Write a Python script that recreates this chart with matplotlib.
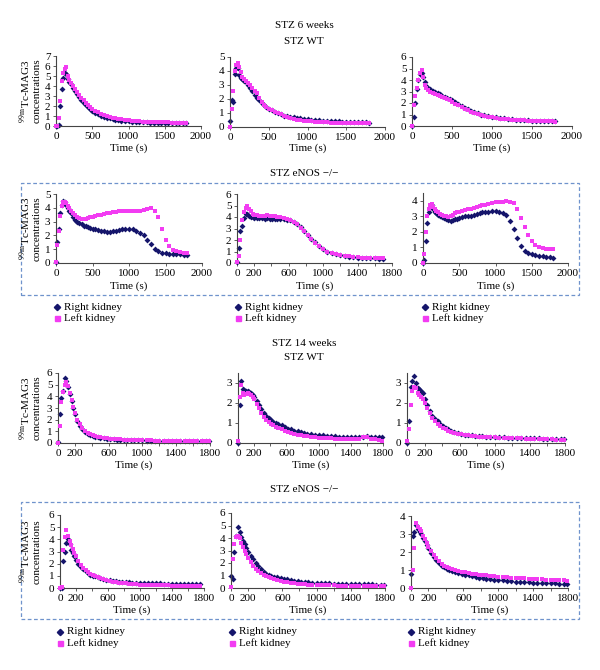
import numpy as np
import matplotlib
matplotlib.use("Agg")
import matplotlib.pyplot as plt
from matplotlib.patches import Rectangle
from matplotlib.lines import Line2D

plt.rcParams["font.family"] = ["Liberation Serif", "DejaVu Serif"]
plt.rcParams["mathtext.fontset"] = "stix"

# ---------------- data ----------------
time_s = [0, 20, 40, 60, 80, 100, 120, 140, 160, 180, 200,
          230, 260, 290, 320, 350, 380, 410, 440, 470, 500,
          540, 580, 620, 660, 700, 740, 780, 820, 860, 900,
          950, 1000, 1050, 1100, 1150, 1200, 1250, 1300, 1350, 1400,
          1450, 1500, 1550, 1600, 1650, 1700, 1750, 1790]

series_names = ["Right kidney", "Left kidney"]

# STZ 6 weeks, STZ WT
w6_wt1_right = [0, 0, 0.1, 2.0, 3.7, 4.8, 5.3, 5.2, 4.7, 4.4, 4.2,
                3.8, 3.5, 3.2, 2.9, 2.6, 2.3, 2.1, 1.9, 1.7, 1.5,
                1.35, 1.2, 1.05, 0.95, 0.85, 0.8, 0.72, 0.65, 0.6, 0.55,
                0.5, 0.48, 0.45, 0.42, 0.4, 0.38, 0.36, 0.35, 0.34, 0.33,
                0.32, 0.3, 0.3, 0.29, 0.28, 0.28, 0.27, 0.27]
w6_wt1_left = [0, 0.05, 0.8, 2.5, 4.5, 5.3, 5.7, 5.9, 5.0, 4.6, 4.3,
               4.0, 3.7, 3.4, 3.1, 2.8, 2.6, 2.35, 2.15, 1.95, 1.75,
               1.55, 1.4, 1.25, 1.1, 1.0, 0.92, 0.85, 0.78, 0.72, 0.67,
               0.62, 0.57, 0.53, 0.5, 0.47, 0.45, 0.43, 0.42, 0.4, 0.39,
               0.38, 0.37, 0.36, 0.35, 0.35, 0.34, 0.34, 0.34]
w6_wt2_right = [0.4, 1.9, 1.8, 3.8, 4.2, 4.2, 3.7, 3.5, 3.4, 3.3, 3.2,
                3.0, 2.8, 2.6, 2.3, 2.1, 1.9, 1.75, 1.6, 1.45, 1.3,
                1.2, 1.1, 1.0, 0.9, 0.82, 0.78, 0.72, 0.68, 0.65, 0.62,
                0.58, 0.55, 0.52, 0.5, 0.48, 0.46, 0.44, 0.43, 0.42, 0.4,
                0.39, 0.38, 0.37, 0.36, 0.35, 0.34, 0.33, 0.32]
w6_wt2_left = [0.0, 1.3, 2.6, 4.0, 4.4, 4.6, 4.3, 3.9, 3.6, 3.4, 3.3,
               3.15, 3.0, 2.8, 2.6, 2.45, 2.05, 1.8, 1.6, 1.45, 1.3,
               1.2, 1.1, 1.0, 0.9, 0.8, 0.72, 0.65, 0.58, 0.52, 0.48,
               0.45, 0.42, 0.4, 0.38, 0.36, 0.35, 0.33, 0.32, 0.31, 0.3,
               0.3, 0.29, 0.29, 0.28, 0.28, 0.28, 0.27, 0.27]
w6_wt3_right = [0, 0.8, 2.0, 3.2, 4.0, 4.5, 4.6, 4.3, 3.8, 3.5, 3.3,
                3.2, 3.05, 2.95, 2.85, 2.75, 2.65, 2.55, 2.45, 2.35, 2.3,
                2.1, 1.9, 1.75, 1.6, 1.45, 1.3, 1.2, 1.1, 1.0, 0.95,
                0.88, 0.82, 0.75, 0.7, 0.66, 0.62, 0.58, 0.55, 0.52, 0.5,
                0.48, 0.46, 0.45, 0.44, 0.45, 0.45, 0.44, 0.4]
w6_wt3_left = [0, 1.8, 2.6, 3.3, 4.0, 4.6, 4.9, 4.3, 3.6, 3.3, 3.1,
               3.0, 2.9, 2.8, 2.7, 2.65, 2.55, 2.45, 2.35, 2.25, 2.1,
               1.95, 1.8, 1.65, 1.5, 1.35, 1.25, 1.15, 1.05, 0.95, 0.9,
               0.82, 0.75, 0.7, 0.65, 0.6, 0.57, 0.55, 0.52, 0.5, 0.48,
               0.46, 0.45, 0.43, 0.42, 0.41, 0.4, 0.4, 0.38]

# STZ 6 weeks, STZ eNOS -/-
w6_ko1_right = [0.1, 1.5, 2.5, 3.6, 4.2, 4.5, 4.4, 4.2, 4.0, 3.8, 3.6,
                3.3, 3.1, 3.0, 2.9, 2.8, 2.7, 2.65, 2.6, 2.55, 2.5,
                2.45, 2.4, 2.35, 2.3, 2.25, 2.25, 2.3, 2.35, 2.4, 2.45,
                2.45, 2.5, 2.45, 2.35, 2.2, 2.0, 1.7, 1.35, 1.05, 0.85,
                0.75, 0.7, 0.68, 0.65, 0.63, 0.62, 0.6, 0.58]
w6_ko1_left = [0.1, 1.3, 2.3, 3.4, 4.1, 4.4, 4.45, 4.35, 4.1, 3.95, 3.8,
               3.6, 3.45, 3.35, 3.25, 3.2, 3.2, 3.2, 3.25, 3.3, 3.35,
               3.4, 3.45, 3.5, 3.55, 3.6, 3.65, 3.7, 3.7, 3.75, 3.75,
               3.75, 3.75, 3.8, 3.75, 3.8, 3.85, 3.9, 3.95, 3.8, 3.3,
               2.5, 1.7, 1.2, 0.95, 0.85, 0.8, 0.75, 0.7]
w6_ko2_right = [0.1, 1.3, 2.8, 3.2, 3.9, 4.3, 4.3, 4.1, 4.0, 4.0, 3.95,
                3.9, 3.9, 3.9, 3.85, 3.9, 3.85, 3.85, 3.8, 3.8, 3.8,
                3.8, 3.75, 3.7, 3.6, 3.4, 3.1, 2.8, 2.45, 2.1, 1.8,
                1.5, 1.2, 1.0, 0.85, 0.75, 0.68, 0.6, 0.55, 0.5, 0.47,
                0.45, 0.43, 0.42, 0.4, 0.39, 0.38, None, None]
w6_ko2_left = [0.1, 0.6, 2.0, 3.7, 4.4, 4.8, 5.0, 4.7, 4.5, 4.3, 4.2,
               4.15, 4.1, 4.1, 4.1, 4.15, 4.1, 4.1, 4.05, 4.0, 4.0,
               3.95, 3.85, 3.7, 3.55, 3.35, 3.05, 2.75, 2.4, 2.05, 1.75,
               1.45, 1.2, 1.0, 0.88, 0.78, 0.7, 0.63, 0.58, 0.53, 0.5,
               0.47, 0.45, 0.43, 0.42, 0.41, 0.4, None, None]
w6_ko3_right = [0.0, 0.2, 1.4, 2.6, 3.3, 3.6, 3.7, 3.5, 3.3, 3.2, 3.1,
                3.0, 2.95, 2.9, 2.8, 2.75, 2.7, 2.75, 2.8, 2.85, 2.9,
                2.95, 3.0, 3.0, 3.05, 3.1, 3.15, 3.2, 3.25, 3.3, 3.3,
                3.35, 3.35, 3.25, 3.2, 3.1, 2.7, 2.2, 1.6, 1.1, 0.8,
                0.65, 0.58, 0.52, 0.48, 0.44, 0.4, 0.36, 0.33]
w6_ko3_left = [0.0, 0.6, 2.0, 3.0, 3.5, 3.7, 3.8, 3.6, 3.45, 3.35, 3.25,
               3.15, 3.1, 3.05, 3.0, 2.95, 3.0, 3.1, 3.2, 3.25, 3.3,
               3.35, 3.4, 3.45, 3.5, 3.55, 3.6, 3.65, 3.7, 3.75, 3.8,
               3.85, 3.9, 3.9, 3.95, 4.0, 3.95, 3.85, 3.5, 2.9, 2.3,
               1.8, 1.4, 1.15, 1.0, 0.95, 0.9, 0.88, 0.88]

# STZ 14 weeks, STZ WT
w14_wt1_right = [0.1, 2.5, 3.9, 4.5, 5.6, 5.3, 4.8, 4.2, 3.6, 3.0, 2.5,
                 1.9, 1.5, 1.2, 0.95, 0.8, 0.7, 0.62, 0.55, 0.5, 0.45,
                 0.4, 0.37, 0.34, 0.32, 0.3, 0.28, 0.27, 0.26, 0.25, 0.24,
                 0.23, 0.22, 0.21, 0.2, 0.2, 0.19, 0.18, 0.18, 0.17, 0.17,
                 0.16, 0.16, 0.15, 0.15, 0.15, 0.14, 0.14, 0.14]
w14_wt1_left = [0.0, 1.5, 3.5, 4.4, 5.0, 5.2, 4.9, 4.3, 3.7, 3.1, 2.6,
                2.0, 1.6, 1.3, 1.05, 0.9, 0.78, 0.68, 0.6, 0.55, 0.5,
                0.45, 0.4, 0.37, 0.35, 0.33, 0.31, 0.3, 0.28, 0.27, 0.26,
                0.25, 0.24, 0.23, 0.22, 0.21, 0.2, 0.2, 0.19, 0.18, 0.18,
                0.17, 0.17, 0.16, 0.16, 0.16, 0.15, 0.15, 0.14]
w14_wt2_right = [0.0, 1.9, 3.1, 2.7, 2.65, 2.6, 2.6, 2.55, 2.5, 2.4, 2.3,
                 2.1, 1.9, 1.7, 1.5, 1.35, 1.25, 1.15, 1.05, 1.0, 0.95,
                 0.88, 0.8, 0.72, 0.68, 0.62, 0.6, 0.55, 0.5, 0.47, 0.45,
                 0.42, 0.4, 0.38, 0.36, 0.34, 0.33, 0.32, 0.31, 0.3, 0.3,
                 0.3, 0.3, 0.32, 0.35, 0.32, 0.3, 0.3, 0.3]
w14_wt2_left = [0.1, 2.3, 2.9, 2.5, 2.4, 2.45, 2.5, 2.45, 2.4, 2.3, 2.2,
                1.95, 1.75, 1.5, 1.3, 1.15, 1.05, 0.95, 0.88, 0.82, 0.75,
                0.68, 0.6, 0.55, 0.5, 0.45, 0.42, 0.38, 0.35, 0.33, 0.3,
                0.28, 0.26, 0.25, 0.24, 0.23, 0.22, 0.22, 0.2, 0.2, 0.2,
                0.2, 0.22, 0.32, 0.3, 0.22, 0.2, 0.15, 0.12]
w14_wt3_right = [0.0, 1.1, 2.8, 3.1, 3.35, 3.0, 2.75, 2.7, 2.6, 2.5, 2.2,
                 1.9, 1.6, 1.35, 1.2, 1.1, 0.95, 0.85, 0.75, 0.68, 0.62,
                 0.55, 0.5, 0.45, 0.42, 0.4, 0.38, 0.35, 0.34, 0.33, 0.32,
                 0.31, 0.3, 0.3, 0.28, 0.27, 0.27, 0.26, 0.26, 0.25, 0.25,
                 0.24, 0.23, 0.22, 0.22, 0.21, 0.2, 0.2, 0.18]
w14_wt3_left = [0.1, 0.7, 1.9, 2.6, 2.8, 2.75, 2.5, 2.4, 2.3, 2.2, 2.0,
                1.75, 1.5, 1.25, 1.1, 0.95, 0.85, 0.75, 0.68, 0.62, 0.57,
                0.52, 0.47, 0.43, 0.4, 0.38, 0.36, 0.34, 0.32, 0.31, 0.3,
                0.29, 0.28, 0.27, 0.26, 0.25, 0.25, 0.24, 0.23, 0.22, 0.22,
                0.21, 0.2, 0.2, 0.19, 0.18, 0.17, 0.15, 0.13]

# STZ 14 weeks, STZ eNOS -/-
w14_ko1_right = [0.0, 0.0, 2.2, 3.0, 3.7, 4.0, 3.6, 3.1, 2.9, 2.6, 2.3,
                 2.0, 1.75, 1.55, 1.4, 1.25, 1.1, 1.0, 0.95, 0.88, 0.82,
                 0.75, 0.68, 0.62, 0.58, 0.55, 0.52, 0.5, 0.48, 0.46, 0.44,
                 0.42, 0.41, 0.4, 0.4, 0.38, 0.38, 0.37, 0.36, 0.35, 0.35,
                 0.34, 0.33, 0.33, 0.32, 0.32, 0.31, 0.3, None]
w14_ko1_left = [0.0, 0.1, 3.1, 4.2, 4.8, 4.3, 3.9, 3.5, 3.2, 2.9, 2.6,
                2.2, 1.9, 1.65, 1.45, 1.3, 1.15, 1.05, 0.95, 0.88, 0.8,
                0.72, 0.65, 0.58, 0.52, 0.48, 0.44, 0.4, 0.37, 0.35, 0.32,
                0.3, 0.28, 0.27, 0.26, 0.25, 0.24, 0.23, 0.22, 0.21, 0.2,
                0.2, 0.19, 0.18, 0.18, 0.17, 0.17, 0.16, None]
w14_ko2_right = [1.0, 0.7, 2.9, 4.2, 4.9, 4.5, 4.1, 3.8, 3.5, 3.2, 2.9,
                 2.6, 2.3, 2.0, 1.75, 1.5, 1.3, 1.15, 1.05, 0.95, 0.9,
                 0.85, 0.8, 0.75, 0.7, 0.65, 0.6, 0.55, 0.5, 0.47, 0.45,
                 0.43, 0.42, 0.4, 0.38, 0.37, 0.36, 0.35, 0.34, 0.33, 0.32,
                 0.31, 0.3, 0.3, 0.3, 0.29, 0.28, 0.28, 0.27]
w14_ko2_left = [0.1, 2.3, 3.5, 4.1, 4.2, 4.0, 3.6, 3.3, 3.0, 2.7, 2.4,
                2.1, 1.8, 1.55, 1.35, 1.2, 1.05, 0.95, 0.85, 0.78, 0.7,
                0.62, 0.55, 0.5, 0.45, 0.42, 0.38, 0.35, 0.32, 0.3, 0.28,
                0.26, 0.25, 0.24, 0.23, 0.22, 0.21, 0.2, 0.2, 0.19, 0.19,
                0.18, 0.18, 0.17, 0.17, 0.16, 0.16, 0.15, 0.15]
w14_ko3_right = [0.8, 2.9, 3.1, 3.5, 3.3, 3.1, 3.0, 2.8, 2.6, 2.4, 2.2,
                 1.95, 1.75, 1.55, 1.4, 1.25, 1.15, 1.05, 1.0, 0.95, 0.9,
                 0.85, 0.8, 0.75, 0.7, 0.65, 0.6, 0.57, 0.55, 0.52, 0.5,
                 0.47, 0.45, 0.42, 0.4, 0.38, 0.36, 0.35, 0.33, 0.32, 0.3,
                 0.3, 0.29, 0.28, 0.27, 0.26, 0.25, 0.24, 0.23]
w14_ko3_left = [0.0, 1.0, 2.2, 3.6, 3.4, 3.3, 3.15, 2.9, 2.7, 2.5, 2.3,
                2.05, 1.85, 1.65, 1.5, 1.35, 1.25, 1.15, 1.1, 1.05, 1.0,
                0.95, 0.9, 0.87, 0.84, 0.8, 0.77, 0.75, 0.73, 0.7, 0.68,
                0.66, 0.63, 0.61, 0.6, 0.58, 0.56, 0.55, 0.53, 0.52, 0.5,
                0.5, 0.48, 0.47, 0.46, 0.45, 0.43, 0.42, 0.4]

# ---------------- layout (pixels) ----------------
W, H = 600, 670
fig = plt.figure(figsize=(W / 100, H / 100), dpi=100)

NAVY = "#15156b"
MAG = "#f23cf2"
FS = 8

ticks2000 = ([0, 500, 1000, 1500, 2000], ["0", "500", "1000", "1500", "2000"], [])
ticks1800 = ([0, 200, 600, 1000, 1400, 1800], ["0", "200", "600", "1000", "1400", "1800"],
             [400, 800, 1200, 1600])

panels = [
    # (right, left, box px (x0,x1,ytop,ybot), xmax, ymax, xticks, ylabel)
    (w6_wt1_right, w6_wt1_left, (56, 201, 56, 126), 2000, 7, ticks2000, True),
    (w6_wt2_right, w6_wt2_left, (230, 385, 57, 127), 2000, 5, ticks2000, False),
    (w6_wt3_right, w6_wt3_left, (412, 572, 57, 126), 2000, 6, ticks2000, False),
    (w6_ko1_right, w6_ko1_left, (56, 202, 194, 263), 2000, 5, ticks2000, True),
    (w6_ko2_right, w6_ko2_left, (237, 392, 194, 263), 1800, 6, ticks1800, False),
    (w6_ko3_right, w6_ko3_left, (423, 568, 193, 263), 2000, 4.5, ticks2000, False),
    (w14_wt1_right, w14_wt1_left, (58, 210, 373, 443), 1800, 6, ticks1800, True),
    (w14_wt2_right, w14_wt2_left, (238, 383, 373, 443), 1800, 3.5, ticks1800, False),
    (w14_wt3_right, w14_wt3_left, (407, 565, 373, 443), 1800, 3.5, ticks1800, False),
    (w14_ko1_right, w14_ko1_left, (60, 204, 515, 588), 1800, 6, ticks1800, True),
    (w14_ko2_right, w14_ko2_left, (231, 385, 513, 588), 1800, 6, ticks1800, False),
    (w14_ko3_right, w14_ko3_left, (411, 568, 516, 588), 1800, 4, ticks1800, False),
]

t = np.array(time_s, dtype=float)
for right, left, (x0, x1, yt, yb), xmax, ymax, (xt, xl, xminor), ylab in panels:
    ax = fig.add_axes([x0 / W, 1 - yb / H, (x1 - x0) / W, (yb - yt) / H])
    r = np.array(right, dtype=float)
    l = np.array(left, dtype=float)
    ax.scatter(t, r, marker="D", s=9, color=NAVY, linewidths=0, zorder=2, clip_on=False)
    ax.scatter(t, l, marker="s", s=10, color=MAG, linewidths=0, zorder=3, clip_on=False)
    ax.set_xlim(0, xmax)
    ax.set_ylim(0, ymax)
    ax.set_yticks(np.arange(0, int(ymax) + 1, 1))
    ax.set_xticks(xt)
    ax.set_xticklabels(xl)
    ax.set_xticks(xminor, minor=True)
    for s in ("top", "right"):
        ax.spines[s].set_visible(False)
    for s in ("left", "bottom"):
        ax.spines[s].set_color("#444444")
        ax.spines[s].set_linewidth(0.8)
    ax.tick_params(axis="both", which="both", direction="out", length=2.5, width=0.6,
                   color="#444444", labelsize=FS, pad=1.5)
    ax.patch.set_alpha(0)
    if ylab:
        fig.text(30 / W, 1 - ((yt + yb) / 2) / H,
                 "$^{99\\,\\mathrm{m}}$Tc-MAG3\nconcentrations",
                 rotation=90, ha="center", va="center", fontsize=FS, linespacing=0.9)

# x axis titles
for y, boxes in [(148, [(56, 201), (230, 385), (412, 572)]),
                 (286, [(56, 202), (237, 392), (423, 568)]),
                 (465, [(58, 210), (238, 383), (407, 565)]),
                 (610, [(60, 204), (231, 385), (411, 568)])]:
    for a, b in boxes:
        fig.text((a + b) / 2 / W, 1 - y / H, "Time (s)", ha="center", va="center", fontsize=FS)

# group titles
for y, s in [(25, "STZ 6 weeks"), (42, "STZ WT"), (174, "STZ eNOS \u2212/\u2212"),
             (343, "STZ 14 weeks"), (358, "STZ WT"), (490, "STZ eNOS \u2212/\u2212")]:
    fig.text(304 / W, 1 - y / H, s, ha="center", va="center", fontsize=FS)

# dashed boxes
for ytop, ybot in [(183, 295), (502, 619)]:
    fig.add_artist(Rectangle((21 / W, 1 - ybot / H), (579 - 21) / W, (ybot - ytop) / H,
                             transform=fig.transFigure, fill=False, ls=(0, (3, 2)),
                             lw=0.9, ec="#6f93cc"))

# legends
for (y1, y2), xs in [((307, 318), [57, 238, 425]), ((632, 643), [60, 232, 411])]:
    for x in xs:
        fig.add_artist(Line2D([x / W], [1 - y1 / H], marker="D", ms=3.2, color=NAVY,
                              ls="none", transform=fig.transFigure))
        fig.add_artist(Line2D([x / W], [1 - y2 / H], marker="s", ms=3.6, color=MAG,
                              ls="none", transform=fig.transFigure))
        fig.text((x + 7) / W, 1 - y1 / H, series_names[0], ha="left", va="center", fontsize=FS)
        fig.text((x + 7) / W, 1 - y2 / H, series_names[1], ha="left", va="center", fontsize=FS)

fig.savefig("out.png", dpi=100)
